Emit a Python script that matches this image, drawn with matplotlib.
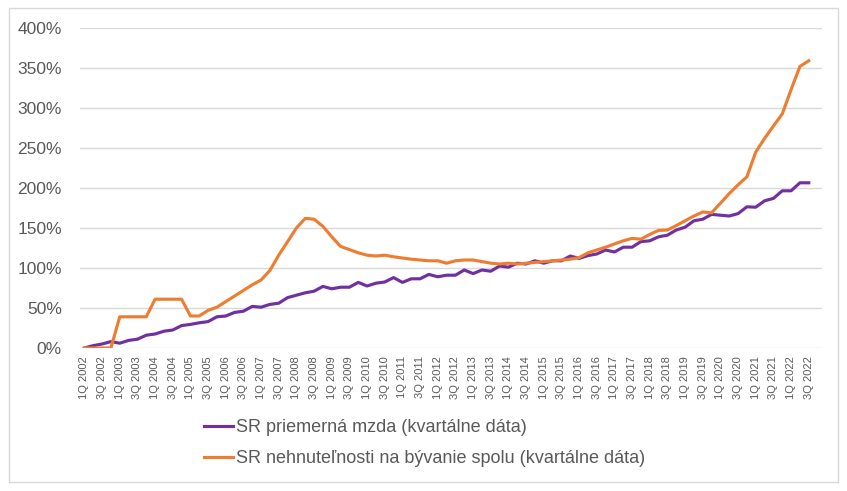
import matplotlib
matplotlib.use('Agg')
import matplotlib.pyplot as plt
from matplotlib.patches import Rectangle
from matplotlib.ticker import FuncFormatter

plt.rcParams['font.family'] = ['Liberation Sans', 'DejaVu Sans']

# quarters 1Q 2002 .. 4Q 2022 (last one has no data)
quarters = [f'{q}Q {y}' for y in range(2002, 2023) for q in range(1, 5)]

# SR priemerna mzda, % change since 1Q 2002
mzda = [0, 3, 5, 8, 6, 9.5, 11, 16, 17.5, 21, 22.5, 28, 29.5, 31.5, 33, 39,
        40, 44.5, 46, 52, 51, 54.5, 56, 63, 66, 69, 71, 77, 74, 76, 76, 82,
        77.5, 81, 82.5, 88, 82, 86.5, 86.5, 92, 89, 91, 91, 97.5, 93, 97.5, 96, 102.5,
        101, 106, 105, 109, 106, 109, 109, 115, 112, 115.5, 117.5, 122.5, 120, 126, 126, 133,
        134, 139, 141, 147.5, 151, 159, 161, 167, 166, 165, 168, 176.5, 176, 184, 187, 196.5,
        196.5, 206.5, 206.5]

# SR nehnutelnosti na byvanie spolu, % change since 1Q 2002
nehn = [0, 0, 0, 0, 39, 39, 39, 39, 61, 61, 61, 61, 40, 40, 47, 51,
        58, 65, 72, 79, 85, 97, 116, 133, 150, 162, 161, 152, 139, 127, 123, 119,
        116, 115, 116, 114, 112.5, 111, 110, 109, 109, 106, 109, 110, 110, 108, 106, 105,
        106, 105, 106, 107, 108, 109, 110, 111, 113, 119, 122.5, 126, 130, 134, 137, 136,
        142, 147, 147.5, 153, 159, 165, 170, 169, 181, 193, 204, 214, 245, 262, 277.5, 292.5,
        323, 352, 359]

label_mzda = 'SR priemerná mzda (kvartálne dáta)'
label_nehn = 'SR nehnuteľnosti na bývanie spolu (kvartálne dáta)'

W, H = 847, 491
fig = plt.figure(figsize=(W / 100, H / 100), dpi=100)
fig.patches.append(Rectangle((9 / W, 1 - 482 / H), (838 - 9) / W, (482 - 8) / H,
                             transform=fig.transFigure, fill=False,
                             edgecolor='#D9D9D9', lw=1))

ax = fig.add_axes([80 / W, 1 - 348 / H, (822 - 80) / W, (348 - 28) / H])
ax.plot(range(len(mzda)), mzda, color='#7030A0', lw=2.25, label=label_mzda)
ax.plot(range(len(nehn)), nehn, color='#ED7D31', lw=2.25, label=label_nehn)

ax.set_xlim(-0.5, len(quarters) - 0.5)
ax.set_ylim(0, 400)
ax.set_yticks(range(0, 401, 50))
ax.yaxis.set_major_formatter(FuncFormatter(lambda v, p: f'{v:.0f}%'))
ax.set_xticks(range(0, len(quarters), 2))
ax.set_xticklabels(quarters[::2], rotation=90)

ax.grid(axis='y', color='#D9D9D9', lw=1)
ax.set_axisbelow(True)
for s in ax.spines.values():
    s.set_visible(False)
ax.tick_params(axis='y', length=0, pad=13, labelsize=12.5, labelcolor='#595959')
ax.tick_params(axis='x', length=0, pad=6, labelsize=8, labelcolor='#595959')

fig.legend(loc='upper left', bbox_to_anchor=(204 / W, 1 - 419 / H),
           frameon=False, borderpad=0, borderaxespad=0, fontsize=13,
           handlelength=29 / 18, handletextpad=0.15, labelspacing=0.78,
           labelcolor='#595959')

fig.savefig('out.png', dpi=100)
